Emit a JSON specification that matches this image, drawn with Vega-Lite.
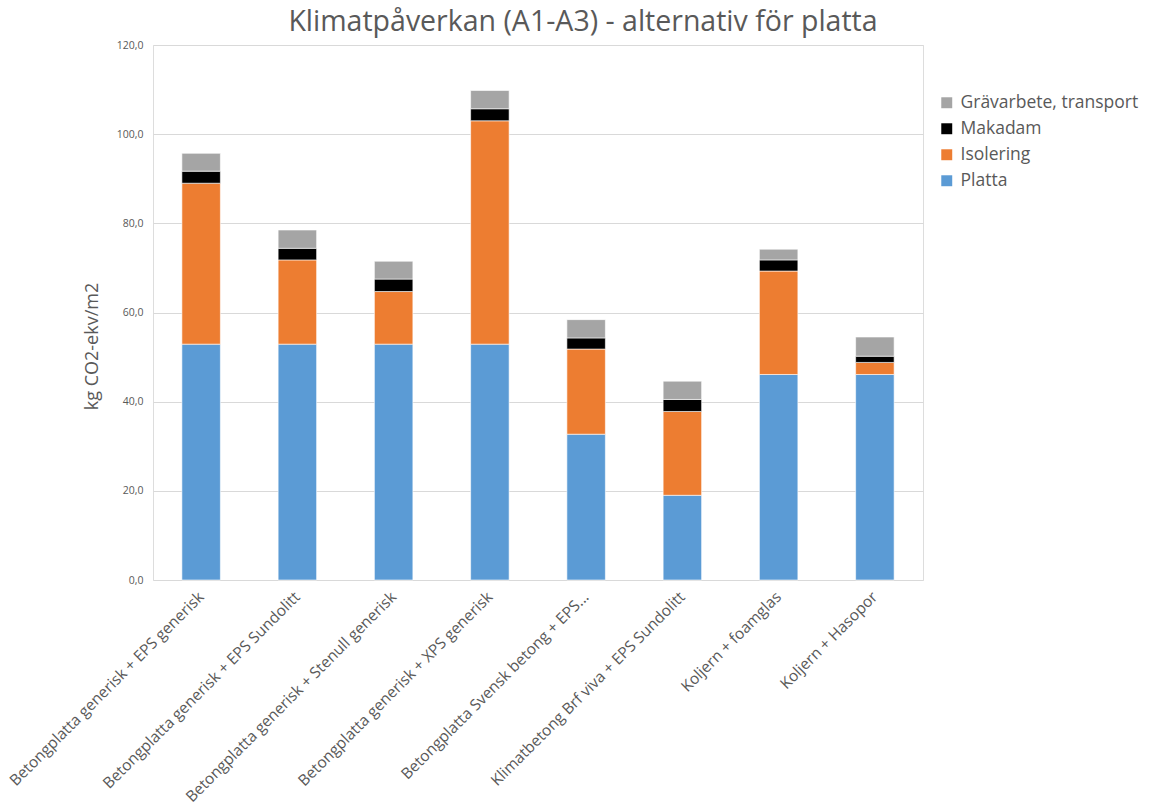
{
  "$schema": "https://vega.github.io/schema/vega-lite/v6.json",
  "width": 770,
  "height": 535,
  "autosize": {"type": "none"},
  "padding": {"left": 153, "top": 45, "right": 232, "bottom": 227},
  "background": "white",
  "title": {
    "text": "Klimatpåverkan (A1-A3) - alternativ för platta",
    "font": "Open Sans",
    "fontSize": 28.5,
    "fontWeight": "normal",
    "color": "#595959",
    "anchor": "middle",
    "frame": "group",
    "dx": 45,
    "offset": 4
  },
  "data": {
    "values": [
      {"alternativ": "Betongplatta generisk + EPS generisk", "del": "Platta", "varde": 52.9},
      {"alternativ": "Betongplatta generisk + EPS generisk", "del": "Isolering", "varde": 36.1},
      {"alternativ": "Betongplatta generisk + EPS generisk", "del": "Makadam", "varde": 2.7},
      {"alternativ": "Betongplatta generisk + EPS generisk", "del": "Grävarbete, transport", "varde": 4.0},
      {"alternativ": "Betongplatta generisk + EPS Sundolitt", "del": "Platta", "varde": 52.9},
      {"alternativ": "Betongplatta generisk + EPS Sundolitt", "del": "Isolering", "varde": 18.9},
      {"alternativ": "Betongplatta generisk + EPS Sundolitt", "del": "Makadam", "varde": 2.6},
      {"alternativ": "Betongplatta generisk + EPS Sundolitt", "del": "Grävarbete, transport", "varde": 4.1},
      {"alternativ": "Betongplatta generisk + Stenull generisk", "del": "Platta", "varde": 52.9},
      {"alternativ": "Betongplatta generisk + Stenull generisk", "del": "Isolering", "varde": 11.8},
      {"alternativ": "Betongplatta generisk + Stenull generisk", "del": "Makadam", "varde": 2.8},
      {"alternativ": "Betongplatta generisk + Stenull generisk", "del": "Grävarbete, transport", "varde": 4.0},
      {"alternativ": "Betongplatta generisk + XPS generisk", "del": "Platta", "varde": 52.9},
      {"alternativ": "Betongplatta generisk + XPS generisk", "del": "Isolering", "varde": 50.1},
      {"alternativ": "Betongplatta generisk + XPS generisk", "del": "Makadam", "varde": 2.7},
      {"alternativ": "Betongplatta generisk + XPS generisk", "del": "Grävarbete, transport", "varde": 4.1},
      {"alternativ": "Betongplatta Svensk betong  + EPS...", "del": "Platta", "varde": 32.7},
      {"alternativ": "Betongplatta Svensk betong  + EPS...", "del": "Isolering", "varde": 19.1},
      {"alternativ": "Betongplatta Svensk betong  + EPS...", "del": "Makadam", "varde": 2.5},
      {"alternativ": "Betongplatta Svensk betong  + EPS...", "del": "Grävarbete, transport", "varde": 4.1},
      {"alternativ": "Klimatbetong Brf viva + EPS Sundolitt", "del": "Platta", "varde": 19.0},
      {"alternativ": "Klimatbetong Brf viva + EPS Sundolitt", "del": "Isolering", "varde": 18.8},
      {"alternativ": "Klimatbetong Brf viva + EPS Sundolitt", "del": "Makadam", "varde": 2.7},
      {"alternativ": "Klimatbetong Brf viva + EPS Sundolitt", "del": "Grävarbete, transport", "varde": 4.1},
      {"alternativ": "Koljern + foamglas", "del": "Platta", "varde": 46.1},
      {"alternativ": "Koljern + foamglas", "del": "Isolering", "varde": 23.2},
      {"alternativ": "Koljern + foamglas", "del": "Makadam", "varde": 2.5},
      {"alternativ": "Koljern + foamglas", "del": "Grävarbete, transport", "varde": 2.4},
      {"alternativ": "Koljern + Hasopor", "del": "Platta", "varde": 46.1},
      {"alternativ": "Koljern + Hasopor", "del": "Isolering", "varde": 2.7},
      {"alternativ": "Koljern + Hasopor", "del": "Makadam", "varde": 1.4},
      {"alternativ": "Koljern + Hasopor", "del": "Grävarbete, transport", "varde": 4.3}
    ]
  },
  "transform": [
    {"calculate": "indexof(['Platta', 'Isolering', 'Makadam', 'Grävarbete, transport'], datum.del)", "as": "lager"}
  ],
  "mark": {"type": "bar", "stroke": "white", "strokeWidth": 0.6},
  "encoding": {
    "x": {
      "field": "alternativ",
      "type": "nominal",
      "sort": null,
      "scale": {"paddingInner": 0.6, "paddingOuter": 0.3},
      "axis": {
        "title": null,
        "labelAngle": -45,
        "labelAlign": "right",
        "labelBaseline": "middle",
        "labelFont": "Open Sans",
        "labelFontSize": 15.5,
        "labelColor": "#595959",
        "labelPadding": 14,
        "labelLimit": 400,
        "ticks": false,
        "domain": false,
        "grid": false
      }
    },
    "y": {
      "field": "varde",
      "type": "quantitative",
      "stack": "zero",
      "scale": {"domain": [0, 120], "nice": false},
      "axis": {
        "title": "kg CO2-ekv/m2",
        "titleFont": "Open Sans",
        "titleFontSize": 18,
        "titleFontWeight": "normal",
        "titleColor": "#595959",
        "titleX": -52,
        "titleY": 301,
        "titleAngle": -90,
        "titleAlign": "center",
        "titleBaseline": "bottom",
        "values": [0, 20, 40, 60, 80, 100, 120],
        "labelExpr": "replace(format(datum.value, '.1f'), '.', ',')",
        "labelFont": "Open Sans",
        "labelFontSize": 10.5,
        "labelColor": "#595959",
        "labelPadding": 10,
        "ticks": false,
        "domain": false,
        "grid": true,
        "gridColor": "#D9D9D9",
        "gridWidth": 1
      }
    },
    "color": {
      "field": "del",
      "type": "nominal",
      "scale": {
        "domain": ["Platta", "Isolering", "Makadam", "Grävarbete, transport"],
        "range": ["#5B9BD5", "#ED7D31", "#000000", "#A5A5A5"]
      },
      "legend": {
        "title": null,
        "orient": "none",
        "legendX": 785,
        "legendY": 49,
        "values": ["Grävarbete, transport", "Makadam", "Isolering", "Platta"],
        "symbolType": "square",
        "symbolSize": 120,
        "symbolStrokeWidth": 0,
        "labelFont": "Open Sans",
        "labelFontSize": 17.5,
        "labelLimit": 300,
        "labelColor": "#595959",
        "labelOffset": 5,
        "rowPadding": 7
      }
    },
    "order": {"field": "lager", "type": "quantitative", "sort": "ascending"}
  }
}
